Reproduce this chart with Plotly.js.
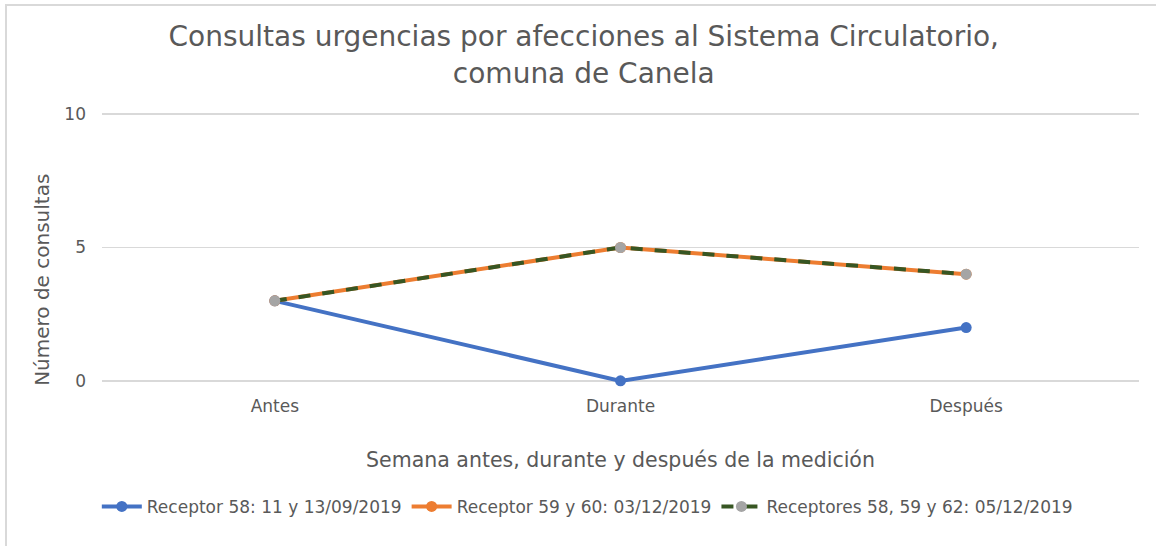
<!DOCTYPE html>
<html>
<head>
<meta charset="utf-8">
<script src="https://cdn.plot.ly/plotly-3.0.1.min.js"></script>
<style>
html,body{margin:0;padding:0;background:#fff;}
#wrap{position:relative;width:1156px;height:546px;}
#chart{width:1156px;height:546px;}
#frame{position:absolute;left:5px;top:4px;right:0;bottom:0;border-top:2px solid #D9D9D9;border-left:2px solid #D9D9D9;pointer-events:none;}
</style>
</head>
<body>
<div id="wrap"><div id="chart"></div><div id="frame"></div></div>
<script>
const categories = ["Antes", "Durante", "Después"];
const seriesNames = ["Receptor 58: 11 y 13/09/2019", "Receptor 59 y 60: 03/12/2019", "Receptores 58, 59 y 62: 05/12/2019"];
const receptor58 = [3, 0, 2];
const receptor5960 = [3, 5, 4];
const receptores585962 = [3, 5, 4];
const yTicks = [0, 5, 10];

const FONT = "DejaVu Sans, sans-serif";
const GRAY = "#595959";

const traces = [
  {x: categories, y: receptor58, name: seriesNames[0], type: "scatter", mode: "lines+markers", cliponaxis: false,
   line: {color: "#4472C4", width: 4}, marker: {color: "#4472C4", size: 11}},
  {x: categories, y: receptor5960, name: seriesNames[1], type: "scatter", mode: "lines+markers", cliponaxis: false,
   line: {color: "#ED7D31", width: 4}, marker: {color: "#ED7D31", size: 11}},
  {x: categories, y: receptores585962, name: seriesNames[2], type: "scatter", mode: "lines+markers", cliponaxis: false,
   line: {color: "#375623", width: 4, dash: "dash"}, marker: {color: "#A5A5A5", size: 11}}
];

const layout = {
  width: 1156, height: 546,
  margin: {l: 102, r: 17, t: 112, b: 163},
  paper_bgcolor: "#fff", plot_bgcolor: "#fff",
  font: {family: FONT, color: GRAY, size: 17},
  title: {text: "Consultas urgencias por afecciones al Sistema Circulatorio,<br>comuna de Canela",
          font: {family: FONT, size: 28, color: GRAY}, x: 0.505, xanchor: "center", y: 0.915, yanchor: "top"},
  xaxis: {type: "category", range: [-0.5, 2.5], showgrid: false, zeroline: false, showline: false,
          ticks: "", tickfont: {size: 17, color: GRAY}, ticklabelstandoff: 11,
          title: {text: "Semana antes, durante y después de la medición", font: {size: 20.5, color: GRAY}, standoff: 37}},
  yaxis: {range: [-0.08, 10.08], tickvals: yTicks, showgrid: true, gridcolor: "#D9D9D9", gridwidth: 1.5,
          zeroline: false, showline: false, ticks: "", tickfont: {size: 17, color: GRAY}, ticklabelstandoff: 15},
  showlegend: true,
  legend: {orientation: "h", x: -0.005, xanchor: "left", y: -0.457, yanchor: "middle",
           font: {size: 17, color: GRAY}, traceorder: "normal", itemwidth: 40},
  annotations: [
    {text: "Número de consultas", xref: "paper", yref: "paper", x: -0.058, y: 0.38, textangle: -90,
     showarrow: false, xanchor: "center", yanchor: "middle", font: {size: 20, color: GRAY}}
  ]
};

Plotly.newPlot("chart", traces, layout, {displayModeBar: false, staticPlot: true});
</script>
</body>
</html>
